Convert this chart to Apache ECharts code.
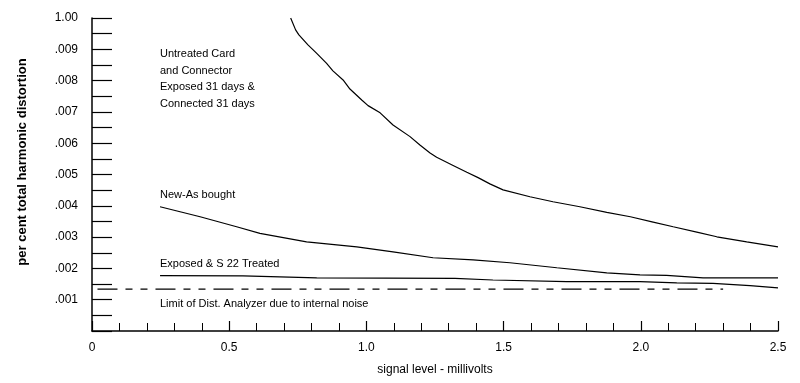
<!DOCTYPE html>
<html><head><meta charset="utf-8">
<script src="https://cdn.jsdelivr.net/npm/echarts@6/dist/echarts.min.js"></script>
<style>html,body{margin:0;padding:0;background:#fff}#c{width:800px;height:383px}</style>
</head><body><div id="c"></div>
<script>
var xTickLabels = ['0', '0.5', '1.0', '1.5', '2.0', '2.5'];
var yTickLabels = ['', '.001', '.002', '.003', '.004', '.005', '.006', '.007', '.008', '.009', '1.00'];

var untreated = [
  [0.724, 0.01000], [0.742, 0.00962], [0.754, 0.00946], [0.787, 0.00914], [0.819, 0.00887],
  [0.855, 0.00855], [0.878, 0.00831], [0.915, 0.00802], [0.940, 0.00773], [0.983, 0.00738],
  [1.006, 0.00720], [1.050, 0.00697], [1.097, 0.00658], [1.159, 0.00621], [1.195, 0.00594],
  [1.232, 0.00569], [1.256, 0.00555], [1.316, 0.00529], [1.366, 0.00507], [1.407, 0.00490],
  [1.450, 0.00470], [1.498, 0.00451], [1.596, 0.00429], [1.680, 0.00413], [1.778, 0.00397],
  [1.876, 0.00379], [1.962, 0.00365], [2.045, 0.00348], [2.118, 0.00333], [2.204, 0.00316],
  [2.277, 0.00301], [2.386, 0.00285], [2.500, 0.00269]
];
var newAsBought = [
  [0.248, 0.00397], [0.321, 0.00381], [0.394, 0.00365], [0.527, 0.00333], [0.612, 0.00312],
  [0.782, 0.00285], [0.965, 0.00269], [1.097, 0.00253], [1.243, 0.00234], [1.389, 0.00227],
  [1.523, 0.00218], [1.694, 0.00202], [1.876, 0.00186], [1.997, 0.00179], [2.094, 0.00178],
  [2.227, 0.00170], [2.500, 0.00170]
];
var exposedS22 = [
  [0.248, 0.00177], [0.550, 0.00176], [0.819, 0.00170], [1.323, 0.00168], [1.461, 0.00163],
  [1.730, 0.00158], [1.997, 0.00158], [2.131, 0.00154], [2.263, 0.00152], [2.398, 0.00145],
  [2.500, 0.00138]
];
var analyzerLimit = [[0.02, 0.00134], [2.30, 0.00134]];

var annotations = [
  {text: 'Untreated Card\nand Connector\nExposed 31 days &\nConnected 31 days', x: 160, y: 46},
  {text: 'New-As bought', x: 160, y: 187},
  {text: 'Exposed & S 22 Treated', x: 160, y: 256},
  {text: 'Limit of Dist. Analyzer due to internal noise', x: 160, y: 296}
];

var font = 'Liberation Sans, Arial, sans-serif';
var chart = echarts.init(document.getElementById('c'));
function lineSeries(name, data, extra) {
  var s = {
    name: name, type: 'line', data: data, symbol: 'none', smooth: false,
    lineStyle: {color: '#000', width: 1.2}, animation: false, z: 3
  };
  if (extra) for (var k in extra) s[k] = extra[k];
  return s;
}
chart.setOption({
  animation: false,
  grid: {left: 92, right: 22, top: 18, bottom: 52},
  xAxis: {
    type: 'value', min: 0, max: 2.5, interval: 0.5,
    name: 'signal level - millivolts', nameLocation: 'middle', nameGap: 33,
    nameTextStyle: {color: '#000', fontSize: 12, fontFamily: font},
    axisLine: {lineStyle: {color: '#000', width: 1.5}},
    axisTick: {inside: true, length: 10, lineStyle: {color: '#000', width: 1.2}},
    minorTick: {show: true, splitNumber: 5, length: 8, lineStyle: {color: '#000', width: 1}},
    splitLine: {show: false},
    axisLabel: {
      color: '#000', fontSize: 12, fontFamily: font, margin: 11,
      formatter: function (v) { return xTickLabels[Math.round(v / 0.5)]; }
    }
  },
  yAxis: {
    type: 'value', min: 0, max: 0.01, interval: 0.001,
    axisLine: {lineStyle: {color: '#000', width: 1.5}},
    axisTick: {inside: true, length: 20, lineStyle: {color: '#000', width: 1.2}},
    minorTick: {show: true, splitNumber: 2, length: 20, lineStyle: {color: '#000', width: 1.2}},
    splitLine: {show: false},
    axisLabel: {
      color: '#000', fontSize: 12, fontFamily: font, margin: 14,
      formatter: function (v) { return yTickLabels[Math.round(v / 0.001)]; }
    }
  },
  graphic: [
    {type: 'text', x: 22, y: 162, rotation: Math.PI / 2,
     style: {text: 'per cent total harmonic distortion', fill: '#000', font: 'bold 13px ' + font,
             textAlign: 'center', textVerticalAlign: 'middle'}}
  ].concat(annotations.map(function (a) {
    return {type: 'text', x: a.x, y: a.y,
            style: {text: a.text, fill: '#000', font: '11px ' + font, lineHeight: 16.5}};
  })),
  series: [
    lineSeries('Untreated Card and Connector', untreated),
    lineSeries('New-As bought', newAsBought),
    lineSeries('Exposed & S 22 Treated', exposedS22),
    lineSeries('Limit of Dist. Analyzer', analyzerLimit, {
      lineStyle: {color: '#000', width: 1.2, type: [20, 8, 7, 8, 7, 8]}
    })
  ]
});
</script></body></html>
